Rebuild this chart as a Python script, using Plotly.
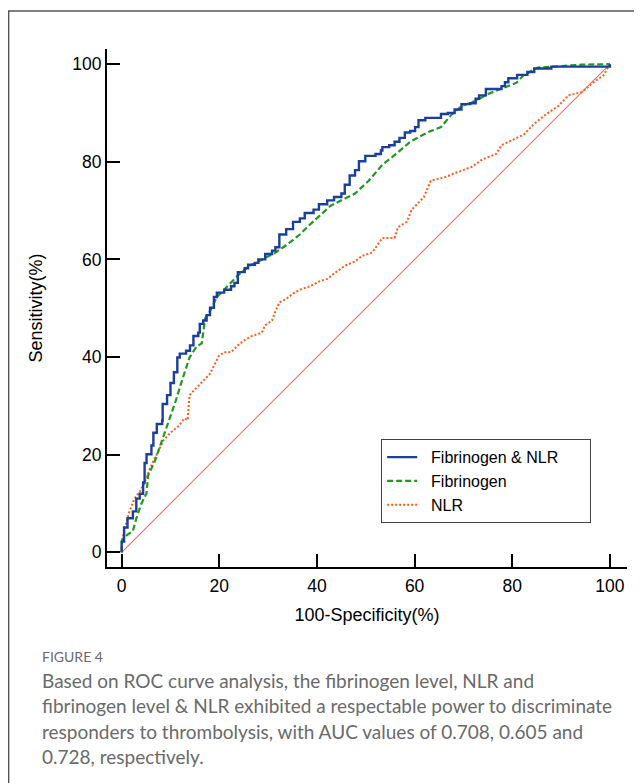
import plotly.graph_objects as go

# ---------------- data ----------------
combo_x = [0, 0, 0.5, 1.2, 2.3, 3, 3.7, 4.4, 4.7, 5.1, 6.1, 6.5, 7.2, 8.3, 8.4, 9.3, 10, 10.7,
           11.4, 11.9, 13.2, 14, 14.7, 15.7, 16, 16.7, 17.4, 18.1, 18.9, 19.5, 21, 22.4, 23.1,
           23.8, 25.2, 25.9, 27.3, 28, 29.4, 30.8, 31.5, 32.3, 33.7, 35.1, 36.5, 37.5, 39.3,
           40.4, 42.1, 43.5, 45, 45.7, 46.7, 47.8, 48.6, 49.9, 52, 53.1, 53.4, 54.8, 55.9,
           56.9, 58, 59.1, 60.1, 60.8, 62.2, 64, 65.4, 66.8, 68.2, 69.6, 71.4, 72.5, 73.2,
           74.6, 77.8, 78.5, 79.2, 81, 83.1, 84.5, 88, 100]
combo_y = [0, 2.2, 5.1, 7, 8.4, 11, 12, 14.3, 18.3, 20.1, 21.9, 24.5, 26.3, 27, 30.4, 32.2,
           34.7, 36.9, 39.9, 40.7, 41.3, 42.4, 44.3, 45, 46.8, 47.5, 48.6, 50.1, 52.3, 53.2,
           53.8, 54.5, 55.2, 57.4, 58.2, 58.9, 59.3, 60, 61.1, 61.8, 62.5, 65.1, 66.2, 67.7,
           68.4, 69.5, 70.2, 71.3, 72.1, 72.8, 73.5, 75.3, 77.2, 78.3, 80.1, 81.2, 81.6, 82.3,
           83, 83.4, 84.1, 84.9, 86, 86.3, 87.1, 88.5, 89, 89, 89.8, 90, 90.7, 91.8, 92, 92.9,
           93.6, 94.9, 95.5, 96.3, 97.1, 97.8, 98.4, 99.1, 99.5, 100]

fib_x = [0, 0.1, 0.8, 2.3, 3, 4, 5.1, 5.4, 6.8, 8.3, 9.7, 11.1, 12.1, 13.9, 15.3, 16.4, 17.1,
         18.1, 19.5, 21.7, 23.8, 25.9, 28.7, 31.5, 33.7, 36.5, 38.3, 40.8, 42.8, 45, 47.8,
         50.6, 53.4, 56.2, 59.1, 62.6, 65.4, 67.5, 69.6, 72.5, 75.3, 78.1, 80.9, 82.3, 85.2,
         88.7, 94.3, 100]
fib_y = [0, 2.6, 3.3, 4.4, 6.9, 9.9, 12.1, 15.7, 18.7, 23, 27.1, 31.1, 34.4, 39.9, 42.1, 42.8,
         47.9, 49.4, 52.3, 54.5, 56.7, 58.5, 60, 61.4, 62.9, 65.1, 66.9, 69.1, 71, 72.1, 73.5,
         76.1, 79.4, 81.6, 84.1, 86, 87.1, 89.6, 91.4, 92.5, 94, 95.1, 96.2, 97.7, 99.3, 99.5,
         99.9, 100]

nlr_x = [0, 0.1, 0.8, 1.6, 2.6, 3.7, 4.7, 5.8, 7.2, 8.6, 10, 11.8, 12.8, 13.5, 13.9, 15.3,
         16.7, 18.1, 19.2, 19.9, 21, 22.4, 23.8, 25.2, 26.6, 28.7, 29.4, 30.8, 31.5, 32.3,
         33.7, 35.1, 36.5, 38.6, 40.7, 42.1, 43.5, 45.7, 47.8, 49.2, 51.3, 53.4, 55.9, 56.6,
         58.4, 59.4, 60.5, 61.9, 63.3, 66.1, 68.9, 71.8, 73.9, 76.7, 77.8, 80.2, 82.4, 84.5,
         87.3, 89.4, 91.5, 94.3, 96.5, 98.7, 99.3, 100]
nlr_y = [0, 2.6, 5.5, 8.4, 11, 12.4, 14.3, 17.2, 20.1, 23, 24.5, 26, 27.4, 27.1, 32.2, 33.7,
         35.1, 36.6, 38.8, 40.2, 41, 41, 42.4, 43.5, 44.3, 45, 46.5, 47.5, 49.4, 51.2, 51.9,
         53, 53.8, 54.5, 55.6, 56, 57.1, 58.7, 59.6, 60.7, 61.4, 64.4, 64.4, 66.6, 67.7, 70.2,
         71.3, 72.8, 76.1, 76.8, 77.9, 79, 80.5, 81.6, 83.4, 84.5, 85.6, 87.8, 90, 91.4, 93.6,
         94.3, 96.2, 97.7, 98.8, 100]

diag_x = [0, 100]
diag_y = [0, 100]

tick_vals = [0, 20, 40, 60, 80, 100]
tick_text = ["0", "20", "40", "60", "80", "100"]

caption_head = "FIGURE 4"
caption_lines = [
    "Based on ROC curve analysis, the fibrinogen level, NLR and",
    "fibrinogen level &amp; NLR exhibited a respectable power to discriminate",
    "responders to thrombolysis, with AUC values of 0.708, 0.605 and",
    "0.728, respectively.",
]

# ---------------- figure ----------------
# the page adds an 8px body margin, so the figure is 8px smaller and every
# page position below is shifted by that offset
OFF = 8
W, H = 642 - OFF, 783 - OFF
L, T = 107 - OFF, 49 - OFF
R = W - (626.7 - OFF)
B = H - (567.3 - OFF)
pw, ph = W - L - R, H - T - B


def px(xpage):
    return (xpage - OFF - L) / pw


def py(ypage):
    return (H - B - (ypage - OFF)) / ph


AX_FONT = "Arial, 'Liberation Sans', sans-serif"
CAP_FONT = "Lato, 'Open Sans', sans-serif"
lead = "\u00a0\u00a0"
pad = "\u00a0" * 6

fig = go.Figure()
fig.add_trace(go.Scatter(x=diag_x, y=diag_y, mode="lines", showlegend=False,
                         line=dict(color="#ec6f6f", width=1.1), hoverinfo="skip"))
fig.add_trace(go.Scatter(x=nlr_x, y=nlr_y, mode="lines", name=lead + "NLR",
                         line=dict(color="#ff5a1a", width=2, dash="2px,2px")))
fig.add_trace(go.Scatter(x=fib_x, y=fib_y, mode="lines", name=lead + "Fibrinogen",
                         line=dict(color="#1f9a1f", width=2.2, dash="6px,3px")))
fig.add_trace(go.Scatter(x=combo_x, y=combo_y, mode="lines",
                         name=lead + "Fibrinogen & NLR" + pad,
                         line=dict(color="#1a3f9c", width=2.4, shape="hv")))

axis_common = dict(
    showline=True, linecolor="black", linewidth=2,
    ticks="inside", ticklen=13, tickwidth=2, tickcolor="black",
    tickvals=tick_vals, ticktext=tick_text,
    showgrid=False, zeroline=False,
    tickfont=dict(family=AX_FONT, size=17.5, color="black"),
    mirror=False,
)

fig.update_xaxes(range=[-3, 103.5], ticklabelstandoff=2,
                 title=dict(text="100-Specificity(%)",
                            font=dict(family=AX_FONT, size=18, color="black"), standoff=13),
                 **axis_common)
fig.update_yaxes(range=[-3, 103.1],
                 title=dict(text="Sensitivity(%)",
                            font=dict(family=AX_FONT, size=18, color="black"), standoff=25),
                 **axis_common)

# outer panel border
fig.add_shape(type="rect", xref="paper", yref="paper",
              x0=px(8.7), x1=px(680), y0=py(11), y1=py(820),
              line=dict(color="#555555", width=1.5), fillcolor="rgba(0,0,0,0)", layer="below")

fig.add_annotation(xref="paper", yref="paper", x=px(40), y=py(657), xanchor="left",
                   yanchor="middle", text=caption_head, showarrow=False,
                   font=dict(family=CAP_FONT, size=14, color="#6a6a6a"))
for i, line in enumerate(caption_lines):
    fig.add_annotation(xref="paper", yref="paper", x=px(40), y=py(681 + i * 25.2),
                       xanchor="left", yanchor="middle", text=line, showarrow=False,
                       font=dict(family=CAP_FONT, size=19, color="#6a6a6a"))

fig.update_layout(
    width=W, height=H,
    margin=dict(l=L, r=R, t=T, b=B),
    paper_bgcolor="white", plot_bgcolor="white",
    showlegend=True,
    legend=dict(x=px(381), y=py(439.5), xanchor="left", yanchor="top",
                traceorder="reversed",
                bordercolor="#444444", borderwidth=1, bgcolor="white",
                font=dict(family=AX_FONT, size=16, color="black"),
                tracegroupgap=0),
)

fig.write_html("out.html")
